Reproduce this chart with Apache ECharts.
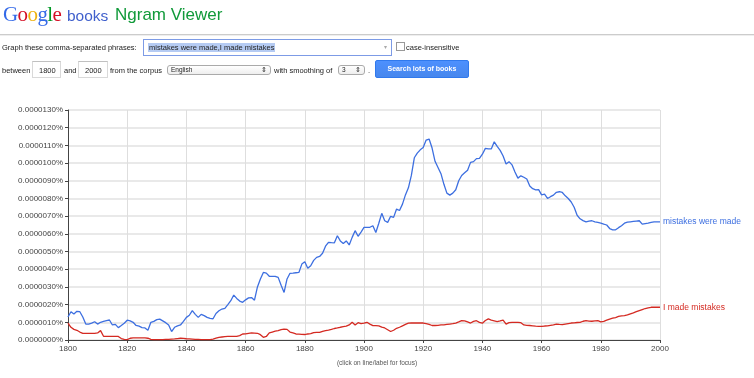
<!DOCTYPE html>
<html>
<head>
<meta charset="utf-8">
<script src="https://cdn.jsdelivr.net/npm/echarts@6/dist/echarts.min.js"></script>
<style>
  html, body { margin: 0; padding: 0; background: #fff; }
  body { width: 754px; height: 378px; position: relative; overflow: hidden; font-family: "Liberation Sans", Arial, sans-serif; }
  #chart { position: absolute; left: 0; top: 0; width: 754px; height: 378px; }
  .abs { position: absolute; white-space: nowrap; }
  .small { font-size: 7.5px; color: #222; }
  .box { position: absolute; border: 1px solid #d9d9d9; border-top-color: #c0c0c0; background: #fff; font-size: 7.5px; color: #222; box-sizing: border-box; }
  .sel { position: absolute; border: 1px solid #aaa; border-radius: 3px; background: linear-gradient(#fff, #eee); font-size: 6.5px; color: #222; box-sizing: border-box; padding-left: 3px; line-height: 8px; }
</style>
</head>
<body>
<div id="chart"></div>

<div class="abs" style="left:3px;top:2px;font-family:'Liberation Serif','DejaVu Serif',serif;font-size:21px;letter-spacing:-0.6px;">
  <span style="color:#3369e8">G</span><span style="color:#d50f25">o</span><span style="color:#eeb211">o</span><span style="color:#3369e8">g</span><span style="color:#009925">l</span><span style="color:#d50f25">e</span>
</div>
<div class="abs" style="left:67px;top:7px;font-size:15.5px;color:#3f5fcc;">books</div>
<div class="abs" style="left:115px;top:5px;font-size:17px;color:#119a3a;">Ngram Viewer</div>
<div class="abs" style="left:0;top:34px;width:754px;height:1px;background:#ccc;"></div>
<div class="abs" style="left:0;top:35px;width:754px;height:1px;background:#eee;"></div>

<div class="abs small" style="left:2px;top:43px;">Graph these comma-separated phrases:</div>
<div class="box" style="left:143px;top:39px;width:249px;height:17px;border-color:#7d9be6;">
  <span class="abs" style="left:4px;top:3px;background:#b5cbf3;color:#222;padding:0 1px;">mistakes were made,I made mistakes</span>
  <span class="abs" style="left:240px;top:3px;color:#aaa;font-size:6px;">&#9662;</span>
</div>
<div class="abs" style="left:396px;top:42px;width:7px;height:7px;border:1px solid #999;background:#fff;"></div>
<div class="abs small" style="left:406px;top:43px;">case-insensitive</div>

<div class="abs small" style="left:2px;top:66px;">between</div>
<div class="box" style="left:32px;top:61px;width:29px;height:17px;padding:4px 0 0 6px;">1800</div>
<div class="abs small" style="left:64px;top:66px;">and</div>
<div class="box" style="left:78px;top:61px;width:30px;height:17px;padding:4px 0 0 6px;">2000</div>
<div class="abs small" style="left:110px;top:66px;">from the corpus</div>
<div class="sel" style="left:167px;top:65px;width:104px;height:10px;">English<span class="abs" style="right:3px;top:0;">&#8661;</span></div>
<div class="abs small" style="left:274px;top:66px;">with smoothing of</div>
<div class="sel" style="left:338px;top:65px;width:27px;height:10px;">3<span class="abs" style="right:3px;top:0;">&#8661;</span></div>
<div class="abs small" style="left:368px;top:66px;">.</div>
<div class="abs" style="left:375px;top:60px;width:94px;height:18px;background:linear-gradient(#4d90fe,#4787ed);border:1px solid #3079ed;border-radius:2px;box-sizing:border-box;color:#fff;font-size:7px;font-weight:bold;text-align:center;line-height:16px;">Search lots of books</div>

<script>
var firstYear = 1800;
var lastYear = 2000;
var phrases = ['mistakes were made', 'I made mistakes'];
var xTicks = [1800, 1820, 1840, 1860, 1880, 1900, 1920, 1940, 1960, 1980, 2000];

// values in units of 0.000001 %
var mistakesWereMade = [
  1.3, 1.6, 1.47, 1.62, 1.6, 1.3, 0.9, 0.9, 0.95, 1.03,
  0.9, 1.0, 1.05, 1.1, 1.13, 0.85, 0.88, 0.7, 0.82, 0.95,
  1.12, 1.08, 1.0, 0.82, 0.78, 0.7, 0.68, 0.55, 1.0, 1.05,
  1.15, 1.18, 1.08, 0.98, 0.85, 0.48, 0.72, 0.8, 0.85, 1.05,
  1.28, 1.4, 1.66, 1.45, 1.28, 1.45, 1.38, 1.28, 1.22, 1.2,
  1.5, 1.65, 1.75, 1.79, 2.0, 2.22, 2.54, 2.35, 2.2, 2.13,
  2.27, 2.38, 2.4, 2.25, 3.0, 3.45, 3.82, 3.78, 3.6, 3.6,
  3.6, 3.54, 3.1, 2.69, 3.45, 3.77, 3.78, 3.8, 3.82, 4.29,
  4.42, 4.05, 4.2, 4.5, 4.67, 4.72, 4.9, 5.3, 5.52, 5.5,
  5.49, 5.89, 5.6, 5.45, 5.6, 5.37, 5.8, 6.18, 5.86, 6.1,
  6.37, 6.37, 6.37, 6.46, 6.08, 6.6, 7.16, 6.74, 6.65, 6.99,
  6.93, 7.4, 7.32, 7.68, 8.2, 8.6, 9.3, 10.3, 10.56, 10.75,
  10.88, 11.3, 11.36, 10.85, 10.1, 9.75, 9.4, 8.8, 8.3, 8.19,
  8.3, 8.49, 9.0, 9.3, 9.45, 9.6, 10.04, 10.08, 10.25, 10.27,
  10.5, 10.83, 10.8, 10.8, 11.2, 10.94, 10.72, 10.4, 9.95, 10.08,
  9.9, 9.5, 9.15, 9.28, 9.2, 9.1, 8.7, 8.55, 8.49, 8.5,
  8.2, 8.24, 8.0, 8.1, 8.19, 8.35, 8.38, 8.34, 8.15, 8.0,
  7.8, 7.5, 7.05, 6.85, 6.75, 6.68, 6.72, 6.74, 6.68, 6.65,
  6.61, 6.55, 6.5, 6.3, 6.23, 6.23, 6.35, 6.46, 6.6, 6.66,
  6.68, 6.7, 6.72, 6.74, 6.55, 6.58, 6.61, 6.65, 6.68, 6.68,
  6.68
];
var iMadeMistakes = [
  0.96, 0.72, 0.6, 0.55, 0.45, 0.38, 0.38, 0.38, 0.38, 0.38,
  0.4, 0.53, 0.21, 0.21, 0.21, 0.21, 0.21, 0.2, 0.08, 0.04,
  0.02, 0.1, 0.12, 0.12, 0.12, 0.12, 0.12, 0.1, 0.04, 0.02,
  0.02, 0.02, 0.02, 0.03, 0.04, 0.05, 0.06, 0.08, 0.1, 0.09,
  0.07, 0.06, 0.05, 0.04, 0.03, 0.02, 0.02, 0.02, 0.02, 0.05,
  0.1, 0.15, 0.17, 0.19, 0.2, 0.21, 0.21, 0.21, 0.25, 0.34,
  0.35, 0.38, 0.4, 0.39, 0.38, 0.3, 0.15, 0.2, 0.4, 0.45,
  0.5, 0.53, 0.58, 0.62, 0.6, 0.45, 0.4, 0.34, 0.33, 0.32,
  0.31, 0.34, 0.36, 0.42, 0.43, 0.43, 0.49, 0.53, 0.56, 0.6,
  0.65, 0.68, 0.72, 0.75, 0.78, 0.85, 1.0, 0.85, 0.98, 0.92,
  0.95, 1.0, 0.9, 0.81, 0.81, 0.8, 0.73, 0.68, 0.58, 0.48,
  0.55, 0.66, 0.72, 0.8, 0.88, 0.95, 0.96, 0.96, 0.96, 0.96,
  0.96, 0.92, 0.88, 0.82, 0.82, 0.83, 0.85, 0.86, 0.88, 0.9,
  0.92, 0.96, 1.02, 1.09, 1.08, 1.02, 0.96, 1.05, 1.09, 1.0,
  0.95, 1.1, 1.19, 1.12, 1.08, 1.04, 1.08, 1.13, 0.9, 0.98,
  1.0, 1.0, 1.0, 0.98, 0.85, 0.83, 0.82, 0.8, 0.78, 0.77,
  0.77, 0.79, 0.8, 0.83, 0.86, 0.9, 0.88, 0.87, 0.9, 0.93,
  0.96, 0.97, 0.99, 1.0, 1.06, 1.09, 1.07, 1.06, 1.08, 1.09,
  1.02, 1.05, 1.12, 1.18, 1.23, 1.27, 1.33, 1.36, 1.38, 1.42,
  1.48, 1.53, 1.6, 1.66, 1.72, 1.78, 1.82, 1.85, 1.86, 1.85,
  1.85
];

var years = [];
for (var y = firstYear; y <= lastYear; y++) years.push(y);

function pairs(vals) {
  return years.map(function (yr, i) { return [yr, vals[i]]; });
}

var chart = echarts.init(document.getElementById('chart'));
var lineColors = ['#3d6fe0', '#d42a22'];

var option = {
  animation: false,
  textStyle: { fontFamily: 'Liberation Sans, Arial, sans-serif' },
  grid: { left: 68, right: 94, top: 110, bottom: 38 },
  xAxis: {
    type: 'value',
    min: firstYear,
    max: lastYear,
    interval: 20,
    axisLine: { lineStyle: { color: '#444', width: 1 } },
    axisTick: { show: true, length: 3, lineStyle: { color: '#444' } },
    axisLabel: { color: '#444', fontSize: 8, margin: 5, showMaxLabel: true, showMinLabel: true,
      formatter: function (v) { return xTicks.indexOf(v) >= 0 ? String(v) : ''; } },
    splitLine: { show: true, lineStyle: { color: '#dedede', width: 1 } }
  },
  yAxis: {
    type: 'value',
    min: 0,
    max: 13,
    interval: 1,
    axisLine: { show: true, lineStyle: { color: '#444', width: 1 } },
    axisTick: { show: true, length: 3, lineStyle: { color: '#444' } },
    axisLabel: { color: '#444', fontSize: 8, margin: 5,
      formatter: function (v) { return (v / 1e6).toFixed(7) + '%'; } },
    splitLine: { show: true, lineStyle: { color: '#e2e2e2', width: 1.5 } }
  },
  graphic: [{
    type: 'text',
    left: 'center',
    top: 360,
    style: { text: '(click on line/label for focus)', fontSize: 6.5, fill: '#555', fontFamily: 'Liberation Sans, Arial, sans-serif' }
  }],
  series: [
    {
      name: phrases[0],
      type: 'line',
      data: pairs(mistakesWereMade),
      showSymbol: false,
      lineStyle: { color: lineColors[0], width: 1.3 },
      itemStyle: { color: lineColors[0] },
      endLabel: { show: true, formatter: '{a}', color: lineColors[0], fontSize: 8.5, distance: 3 }
    },
    {
      name: phrases[1],
      type: 'line',
      data: pairs(iMadeMistakes),
      showSymbol: false,
      lineStyle: { color: lineColors[1], width: 1.3 },
      itemStyle: { color: lineColors[1] },
      endLabel: { show: true, formatter: '{a}', color: lineColors[1], fontSize: 8.5, distance: 3 }
    }
  ]
};
chart.setOption(option);
</script>
</body>
</html>
